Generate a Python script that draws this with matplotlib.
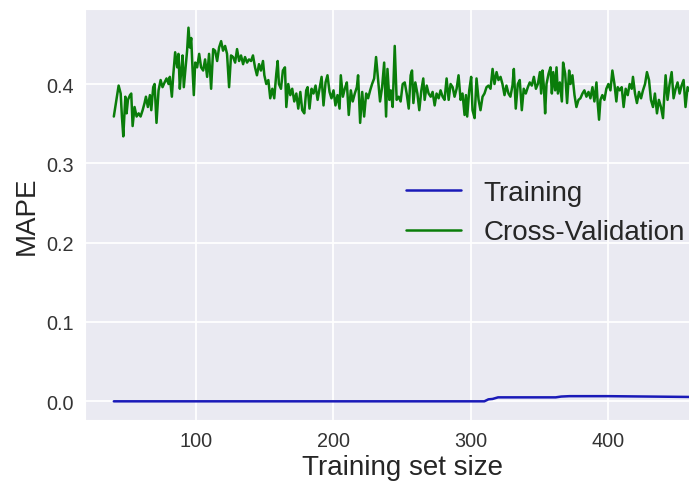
import matplotlib
matplotlib.use("Agg")
import matplotlib.pyplot as plt
import seaborn as sns

sns.set_style("darkgrid")
plt.rcParams['font.family'] = ['Liberation Sans', 'DejaVu Sans']

# Cross-validation MAPE
cv_x = [40.0, 43.5, 45.0, 45.9, 46.9, 48.4, 49.3, 50.3, 51.8, 52.7, 53.7, 55.1, 56.6, 58.1, 59.5,
        61.0, 62.4, 63.4, 64.8, 66.3, 67.3, 68.7, 69.7, 71.1, 72.6, 74.1, 75.5, 77.0, 78.4, 79.9,
        80.8, 82.3, 83.3, 84.7, 86.2, 87.1, 88.1, 89.1, 90.1, 91.0, 92.5, 93.4, 94.4, 95.4, 96.4,
        97.3, 98.3, 99.3, 100.7, 102.2, 103.6, 105.1, 106.5, 108.0, 109.4, 110.9, 112.4, 113.8,
        115.3, 116.7, 118.2, 119.6, 121.1, 122.5, 124.0, 125.4, 126.9, 128.4, 129.8, 131.3, 132.7,
        134.2, 135.6, 137.1, 138.5, 140.0,
        141.4, 142.9, 144.3, 145.8, 147.2, 148.7, 149.7, 151.1, 152.6, 154.0, 155.5, 156.9, 158.4,
        159.4, 160.3, 161.8, 163.2, 164.7, 165.7, 167.1, 168.6, 170.0, 171.5, 173.0, 174.4, 175.9,
        177.3, 178.8, 180.2, 181.2, 182.6, 184.1, 185.5, 187.0, 188.5, 189.9, 191.4, 192.8, 194.3,
        195.7, 197.2, 198.6, 200.1, 201.5, 203.0, 204.5, 205.4, 206.9, 208.3, 209.8, 211.2, 212.7,
        214.1, 215.6, 217.1, 218.0, 219.5, 221.0, 222.4, 223.9, 225.3, 226.8, 228.2, 229.7, 231.1,
        232.6, 234.0, 235.5, 237.0, 238.4, 239.4, 240.8,
        241.8, 243.2, 244.7, 246.1, 247.6, 249.0, 250.5, 252.0, 253.4, 254.9, 256.3, 257.3, 258.3,
        259.7, 261.2, 262.6, 264.1, 265.5, 266.5, 268.0, 269.4, 270.9, 272.3, 273.8, 275.2, 276.7,
        278.1, 279.6, 281.0, 282.5, 284.0, 285.4, 286.9, 288.3, 289.8, 291.2, 292.7, 294.1, 295.6,
        296.6, 297.5, 299.0, 300.4, 301.4, 302.9, 304.3, 305.8, 307.2, 308.7, 310.1, 311.6, 313.0,
        314.5, 316.0, 317.4, 318.9, 320.3, 321.8, 323.2, 324.7, 326.1, 327.6, 329.0, 330.5, 331.5,
        332.9, 334.4, 335.8, 337.3, 338.7, 340.2, 341.7, 343.1,
        344.6, 346.1, 347.6, 349.0, 350.5, 351.4, 352.4, 353.4, 354.3, 355.3, 356.8, 358.2, 359.2,
        360.2, 361.6, 362.6, 363.6, 365.0, 366.5, 367.4, 368.9, 370.3, 371.8, 372.8, 374.2, 375.7,
        377.1, 378.6, 380.0, 381.5, 382.9, 384.4, 385.9, 387.3, 388.8, 390.2, 391.7, 392.6, 393.6,
        394.6, 396.0, 397.5, 398.9, 400.4, 401.9, 403.3, 404.8, 406.2, 407.2, 408.6, 410.1, 411.5,
        413.0, 414.5, 415.9, 417.4, 418.3, 419.8, 421.2, 422.7, 424.2, 425.6, 427.1, 428.5, 430.0,
        431.4, 432.9, 434.3, 435.8, 437.2, 438.7, 440.2, 441.1, 442.1, 443.5, 445.0, 446.5, 447.9,
        449.4, 450.8, 452.3, 453.7, 455.2, 456.6, 458.1, 460.0]
cv_mape = [0.359, 0.398, 0.388, 0.359, 0.334, 0.384, 0.363, 0.380, 0.386, 0.388, 0.347, 0.371, 0.359,
           0.363, 0.359, 0.367, 0.376, 0.384, 0.371, 0.386, 0.367, 0.396, 0.400, 0.351, 0.392, 0.405,
           0.396, 0.402, 0.407, 0.400, 0.409, 0.384, 0.411, 0.440, 0.421, 0.438, 0.394, 0.417, 0.436,
           0.396, 0.425, 0.442, 0.471, 0.446, 0.458, 0.421, 0.386, 0.427, 0.421, 0.438, 0.421, 0.417,
           0.431, 0.409, 0.438, 0.394, 0.444, 0.442, 0.429, 0.446, 0.454, 0.442, 0.448, 0.438, 0.396,
           0.436, 0.434, 0.427, 0.444, 0.429, 0.436, 0.425, 0.434, 0.427, 0.431, 0.429,
           0.436, 0.421, 0.411, 0.425, 0.417, 0.429, 0.411, 0.400, 0.405, 0.382, 0.394, 0.382, 0.413,
           0.429, 0.400, 0.394, 0.417, 0.421, 0.371, 0.400, 0.386, 0.394, 0.378, 0.388, 0.369, 0.390,
           0.367, 0.363, 0.392, 0.396, 0.369, 0.394, 0.388, 0.398, 0.380, 0.394, 0.409, 0.373, 0.402,
           0.411, 0.390, 0.382, 0.392, 0.373, 0.386, 0.369, 0.411, 0.384, 0.394, 0.402, 0.361, 0.392,
           0.378, 0.388, 0.396, 0.411, 0.351, 0.390, 0.359, 0.388, 0.382, 0.392, 0.400, 0.407, 0.434,
           0.405, 0.378, 0.396, 0.427, 0.359, 0.419, 0.380,
           0.392, 0.371, 0.448, 0.380, 0.384, 0.378, 0.400, 0.402, 0.388, 0.369, 0.411, 0.417, 0.376,
           0.402, 0.388, 0.367, 0.392, 0.407, 0.380, 0.398, 0.388, 0.384, 0.390, 0.373, 0.388, 0.382,
           0.392, 0.384, 0.380, 0.407, 0.380, 0.400, 0.396, 0.384, 0.394, 0.411, 0.380, 0.388, 0.361,
           0.386, 0.359, 0.392, 0.409, 0.367, 0.357, 0.407, 0.380, 0.367, 0.384, 0.388, 0.396, 0.398,
           0.394, 0.419, 0.400, 0.415, 0.405, 0.409, 0.400, 0.386, 0.398, 0.388, 0.384, 0.398, 0.419,
           0.369, 0.400, 0.405, 0.367, 0.394, 0.388, 0.396, 0.402,
           0.398, 0.409, 0.394, 0.400, 0.415, 0.388, 0.417, 0.396, 0.363, 0.400, 0.413, 0.421, 0.388,
           0.415, 0.392, 0.421, 0.388, 0.402, 0.378, 0.427, 0.413, 0.376, 0.417, 0.400, 0.411, 0.386,
           0.371, 0.380, 0.382, 0.388, 0.392, 0.384, 0.390, 0.382, 0.396, 0.378, 0.402, 0.376, 0.355,
           0.380, 0.386, 0.380, 0.394, 0.400, 0.392, 0.417, 0.400, 0.378, 0.396, 0.392, 0.396, 0.371,
           0.394, 0.386, 0.400, 0.394, 0.409, 0.388, 0.376, 0.390, 0.382, 0.392, 0.400, 0.415, 0.405,
           0.380, 0.371, 0.388, 0.363, 0.380, 0.371, 0.357, 0.384, 0.411, 0.380, 0.400, 0.415, 0.382,
           0.394, 0.402, 0.388, 0.398, 0.405, 0.371, 0.396, 0.390]

# Training MAPE
tr_x = [40, 310, 313, 316, 320, 362, 366, 372, 400, 430, 460]
tr_mape = [0.0, 0.0, 0.0025, 0.003, 0.005, 0.005, 0.006, 0.0065, 0.0065, 0.006, 0.0055]

W, H = 689, 485
fig = plt.figure(figsize=(W / 100, H / 100), dpi=100)
ax = fig.add_axes([85 / W, 1 - 421 / H, (719 - 85) / W, (421 - 10) / H])

ax.plot(tr_x, tr_mape, color='#1a1ab8', lw=1.8, label='Training')
ax.plot(cv_x, cv_mape, color='#0a7d0a', lw=1.8, label='Cross-Validation')

ax.set_yticks([0.0, 0.1, 0.2, 0.3, 0.4])
ax.set_xticks([100, 200, 300, 400])
ax.tick_params(axis='both', labelsize=14.3, colors='#333333', pad=8, length=0)
ax.set_xlabel('Training set size', fontsize=20, color='#262626', labelpad=3)
ax.set_ylabel('MAPE', fontsize=20, color='#262626', labelpad=5)
ax.grid(True, color='white', lw=1.3)

leg = ax.legend(loc='center right', bbox_to_anchor=(1 - 9 / 634, 0.505),
                fontsize=20, frameon=False)
for t in leg.get_texts():
    t.set_color('#262626')

fig.savefig('out.png', dpi=100)
